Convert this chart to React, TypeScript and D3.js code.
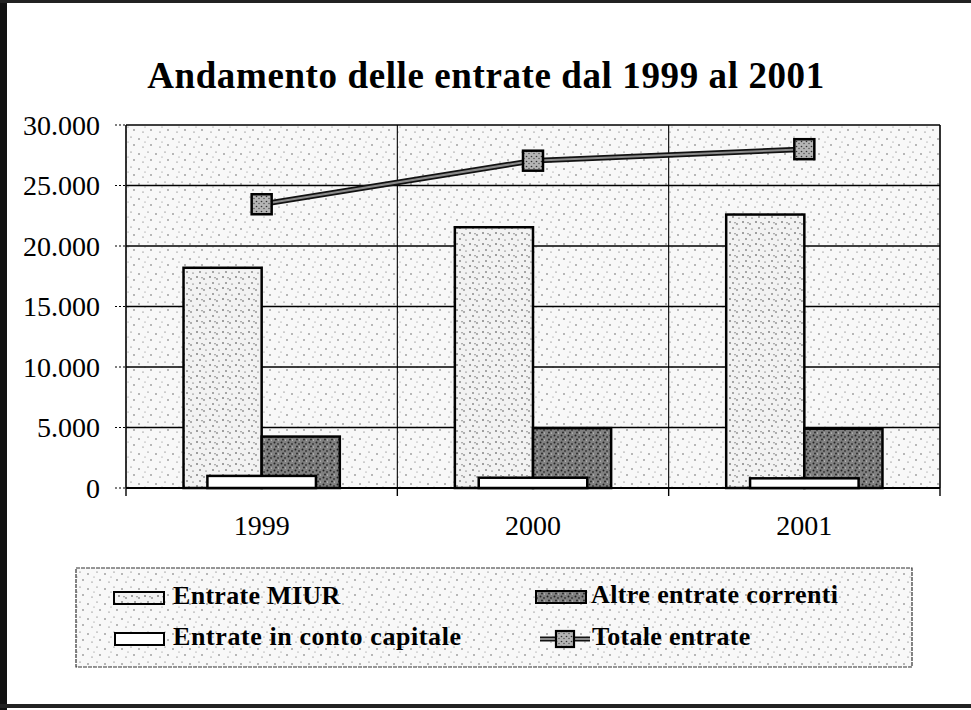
import React from "react";
import * as d3 from "d3";

const years = ["1999", "2000", "2001"];
const entrateMIUR = [18200, 21550, 22600];
const altreEntrate = [4250, 4950, 4900];
const contoCapitale = [1000, 850, 800];
const totaleEntrate = [23450, 27050, 28000];
const yTicks = [0, 5000, 10000, 15000, 20000, 25000, 30000];
const title = "Andamento delle entrate dal 1999 al 2001";
const legendLabels = ["Entrate MIUR", "Altre entrate correnti", "Entrate in conto capitale", "Totale entrate"];

const W = 971, H = 710;
const PL = 126, PR = 940, PT = 125, PB = 488;

const fmt = (v: number) => (v === 0 ? "0" : d3.format(",")(v).replace(/,/g, "."));

export default function App() {
  const x = d3.scaleBand<string>().domain(years).range([PL, PR]).paddingInner(0).paddingOuter(0);
  const y = d3.scaleLinear().domain([0, 30000]).range([PB, PT]);
  const bw = x.bandwidth();
  const barW = bw * 0.288;
  const capW = bw * 0.4;
  const cx = (i: number) => (x(years[i]) as number) + bw / 2;
  const line = d3.line<number>().x((_, i) => cx(i)).y((d) => y(d));
  const font = "'Liberation Serif', 'Times New Roman', serif";
  const boundaries = [PL, ...years.map((yr) => (x(yr) as number) + bw)];

  return (
    <svg width={W} height={H} style={{ position: "absolute", left: 0, top: 0 }} fontFamily={font}>
      <defs>
        <pattern id="bgDots" width="17" height="15" patternUnits="userSpaceOnUse">
          <rect width="17" height="15" fill="#f8f8f8" />
          <circle cx="3" cy="4" r="0.7" fill="#444" />
          <circle cx="12" cy="2" r="0.6" fill="#555" />
          <circle cx="15" cy="10" r="0.7" fill="#444" />
          <circle cx="7" cy="12" r="0.6" fill="#555" />
          <circle cx="9" cy="7" r="0.5" fill="#666" />
        </pattern>
        <pattern id="miurDots" width="13" height="11" patternUnits="userSpaceOnUse">
          <rect width="13" height="11" fill="#f2f2f2" />
          <circle cx="2" cy="2" r="0.8" fill="#333" />
          <circle cx="9" cy="4" r="0.7" fill="#333" />
          <circle cx="5" cy="8" r="0.8" fill="#444" />
          <circle cx="11" cy="9" r="0.6" fill="#333" />
          <path d="M6 3 q1 -1 2 0" stroke="#555" strokeWidth="0.6" fill="none" />
        </pattern>
        <pattern id="altreDots" width="7" height="7" patternUnits="userSpaceOnUse">
          <rect width="7" height="7" fill="#808080" />
          <circle cx="1.5" cy="1.5" r="1" fill="#222" />
          <circle cx="5" cy="3" r="0.9" fill="#333" />
          <circle cx="3" cy="5.5" r="0.9" fill="#222" />
          <circle cx="5.5" cy="6" r="0.6" fill="#ddd" />
        </pattern>
        <pattern id="markDots" width="5" height="5" patternUnits="userSpaceOnUse">
          <rect width="5" height="5" fill="#b5b5b5" />
          <circle cx="1.5" cy="1.5" r="0.8" fill="#333" />
          <circle cx="4" cy="3.5" r="0.7" fill="#444" />
        </pattern>
      </defs>

      <rect x={0} y={0} width={W} height={H} fill="#fff" />
      {/* outer frame */}
      <rect x={0} y={0} width={7} height={H} fill="#111" />
      <rect x={0} y={0} width={W} height={3} fill="#222" />
      <rect x={0} y={704} width={W} height={4} fill="#222" />

      <text x={486} y={88} textAnchor="middle" fontSize={37} fontWeight="bold" fill="#000" letterSpacing={0.6}>
        {title}
      </text>

      {/* plot area */}
      <rect x={PL} y={PT} width={PR - PL} height={PB - PT} fill="url(#bgDots)" />
      {yTicks.map((t) => (
        <g key={t}>
          <line x1={PL} x2={PR} y1={y(t)} y2={y(t)} stroke="#000" strokeWidth={1.4} />
          <line x1={PL - 11} x2={PL} y1={y(t)} y2={y(t)} stroke="#000" strokeWidth={1.2} strokeDasharray="2 2" />
          <text x={100} y={y(t)} dy="0.35em" textAnchor="end" fontSize={28} fill="#000">
            {fmt(t)}
          </text>
        </g>
      ))}
      {boundaries.map((b, i) => (
        <g key={i}>
          <line x1={b} x2={b} y1={PT} y2={PB} stroke="#000" strokeWidth={i === 0 || i === boundaries.length - 1 ? 1.6 : 1.1} />
          <line x1={b} x2={b} y1={PB} y2={PB + 8} stroke="#000" strokeWidth={1.4} />
        </g>
      ))}

      {/* bars */}
      {years.map((yr, i) => (
        <g key={yr}>
          <rect x={cx(i) - barW} y={y(entrateMIUR[i])} width={barW} height={PB - y(entrateMIUR[i])} fill="url(#miurDots)" stroke="#000" strokeWidth={2.5} />
          <rect x={cx(i)} y={y(altreEntrate[i])} width={barW} height={PB - y(altreEntrate[i])} fill="url(#altreDots)" stroke="#000" strokeWidth={2.5} />
          <rect x={cx(i) - capW / 2} y={y(contoCapitale[i])} width={capW} height={PB - y(contoCapitale[i])} fill="#fff" stroke="#000" strokeWidth={2.5} />
        </g>
      ))}
      <line x1={PL} x2={PR} y1={PB} y2={PB} stroke="#000" strokeWidth={2} />

      {/* totale line */}
      <path d={line(totaleEntrate) || ""} fill="none" stroke="#111" strokeWidth={5.5} />
      <path d={line(totaleEntrate) || ""} fill="none" stroke="#8a8a8a" strokeWidth={2} />
      {totaleEntrate.map((v, i) => (
        <rect key={i} x={cx(i) - 10} y={y(v) - 10} width={20} height={20} fill="url(#markDots)" stroke="#000" strokeWidth={2.5} />
      ))}

      {years.map((yr, i) => (
        <text key={yr} x={cx(i)} y={535} textAnchor="middle" fontSize={28} fill="#000">
          {yr}
        </text>
      ))}

      {/* legend */}
      <rect x={76} y={568} width={836} height={99} fill="url(#bgDots)" stroke="#333" strokeWidth={1.2} strokeDasharray="4 1" />
      <rect x={114} y={592} width={50} height={12} fill="url(#miurDots)" stroke="#000" strokeWidth={2} />
      <text x={173} y={604} fontSize={26} fontWeight="bold" fill="#000" letterSpacing={0.3}>{legendLabels[0]}</text>
      <rect x={536} y={591} width={50} height={12} fill="url(#altreDots)" stroke="#000" strokeWidth={2} />
      <text x={591} y={603} fontSize={26} fontWeight="bold" fill="#000" letterSpacing={0.4}>{legendLabels[1]}</text>
      <rect x={115} y={633} width={49} height={12} fill="#fff" stroke="#000" strokeWidth={2} />
      <text x={173} y={645} fontSize={26} fontWeight="bold" fill="#000" letterSpacing={0.6}>{legendLabels[2]}</text>
      <line x1={540} x2={590} y1={639} y2={639} stroke="#111" strokeWidth={5} />
      <line x1={540} x2={590} y1={639} y2={639} stroke="#8a8a8a" strokeWidth={1.8} />
      <rect x={556} y={631} width={18} height={16} fill="url(#markDots)" stroke="#000" strokeWidth={2.2} />
      <text x={592} y={645} fontSize={26} fontWeight="bold" fill="#000" letterSpacing={0.3}>{legendLabels[3]}</text>
    </svg>
  );
}
